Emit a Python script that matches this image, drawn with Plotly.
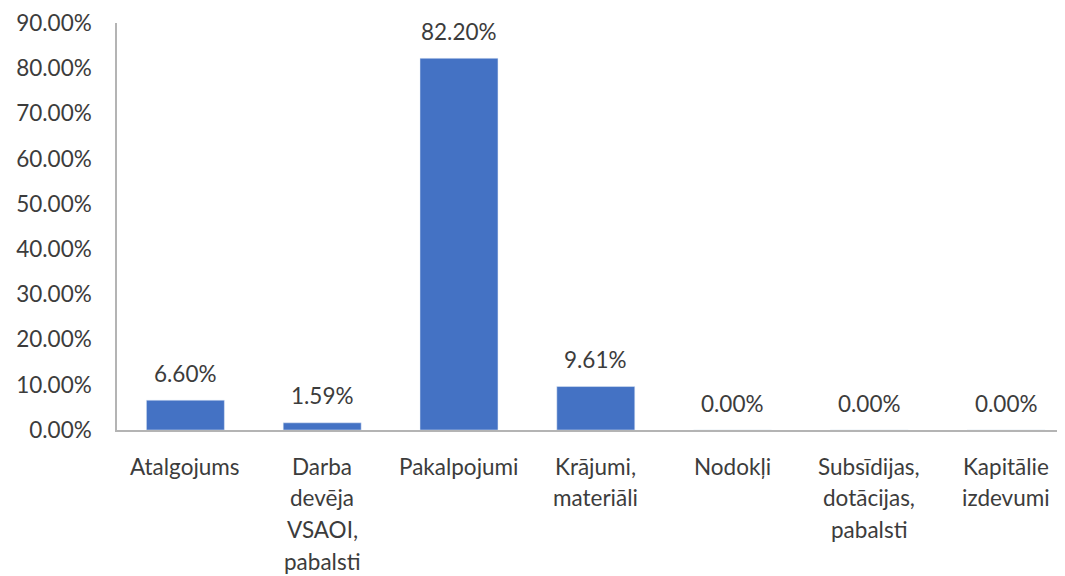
import plotly.graph_objects as go

categories = ["Atalgojums", "Darba devēja VSAOI, pabalsti", "Pakalpojumi",
              "Krājumi, materiāli", "Nodokļi", "Subsīdijas, dotācijas, pabalsti",
              "Kapitālie izdevumi"]
label_lines = [["Atalgojums"], ["Darba", "devēja", "VSAOI,", "pabalsti"], ["Pakalpojumi"],
               ["Krājumi,", "materiāli"], ["Nodokļi"], ["Subsīdijas,", "dotācijas,", "pabalsti"],
               ["Kapitālie", "izdevumi"]]
values = [0.0660, 0.0159, 0.8220, 0.0961, 0.0, 0.0, 0.0]
value_labels = ["6.60%", "1.59%", "82.20%", "9.61%", "0.00%", "0.00%", "0.00%"]

FONT = "Lato"
TXT = "#3C3C3C"
FS = 22.5

fig = go.Figure(go.Bar(x=categories, y=values, marker=dict(color="#4472C4"), width=0.57))

ann = []
for c, v, t in zip(categories, values, value_labels):
    ann.append(dict(x=c, y=v, xref="x", yref="y", text=t, showarrow=False,
                    yanchor="middle", yshift=27, font=dict(family=FONT, size=FS, color=TXT)))
for c, lines in zip(categories, label_lines):
    for i, ln in enumerate(lines):
        ann.append(dict(x=c, y=0, xref="x", yref="paper", text=ln, showarrow=False,
                        yanchor="middle", yshift=-(36 + 31.7 * i),
                        font=dict(family=FONT, size=FS, color=TXT)))

fig.update_layout(
    width=1057, height=568,
    margin=dict(l=109, r=0, t=15, b=146),
    plot_bgcolor="white", paper_bgcolor="white",
    showlegend=False,
    annotations=ann,
    xaxis=dict(range=[-0.5, 6.43], showticklabels=False, showline=True,
               linecolor="#B4B4B4", linewidth=1.5, showgrid=False, zeroline=False,
               automargin=False),
    yaxis=dict(range=[0, 0.9], dtick=0.1, tickformat=".2%", showline=True,
               linecolor="#B4B4B4", linewidth=1.5, showgrid=False, zeroline=False,
               ticks="", ticklabelstandoff=19, automargin=False,
               tickfont=dict(family=FONT, size=FS, color=TXT)),
)

fig.write_html("out.html")
